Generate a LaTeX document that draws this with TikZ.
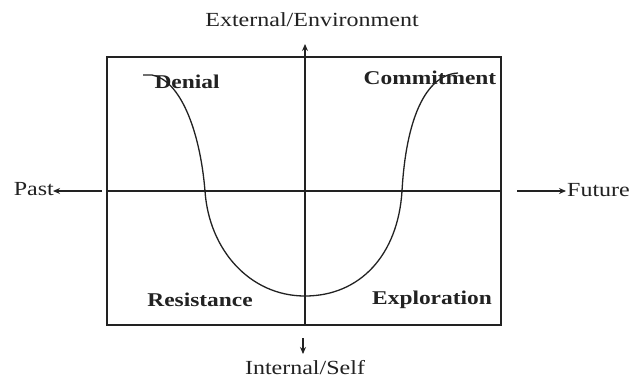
\documentclass[tikz,border=0pt]{standalone}
\usepackage{fontspec}
\setmainfont{Liberation Serif}
\newfontfamily\labfont[FakeStretch=1.2]{Liberation Serif}
\usetikzlibrary{arrows.meta}
\definecolor{ink}{HTML}{222222}
\tikzset{
  quad/.style={font=\labfont\fontsize{19.5}{22}\selectfont\bfseries, text=ink, inner sep=0pt},
  axislab/.style={font=\labfont\fontsize{20}{22}\selectfont, text=ink, inner sep=0pt},
  axis/.style={draw=ink, line width=1.2pt},
  outarrow/.style={draw=ink, line width=1.2pt, -{Stealth[length=7pt,width=6pt]}},
  frame/.style={draw=ink, line width=1.7pt},
  curve/.style={draw=ink, line width=1.3pt}
}
\begin{document}
\begin{tikzpicture}[x=1pt,y=-1pt]
\useasboundingbox (0,0) rectangle (631,381);
\fill[white] (0,0) rectangle (631,381);
% frame corners
\coordinate (tl) at (107,57);
\coordinate (br) at (501,325);
\draw[frame] (tl) rectangle (br);
% axes inside box
\coordinate (vt) at (305,57);
\coordinate (vb) at (305,325);
\coordinate (hl) at (107,191);
\coordinate (hr) at (501,191);
\draw[axis] (vt) -- (vb);
\draw[axis] (hl) -- (hr);
% outside arrows
\coordinate (ua0) at (305,56);
\coordinate (ua1) at (305,44);
\coordinate (da0) at (303,338);
\coordinate (da1) at (303,354);
\coordinate (la0) at (102,191);
\coordinate (la1) at (53,191);
\coordinate (ra0) at (517,191);
\coordinate (ra1) at (566,191);
\draw[outarrow] (ua0) -- (ua1);
\draw[outarrow] (da0) -- (da1);
\draw[outarrow] (la0) -- (la1);
\draw[outarrow] (ra0) -- (ra1);
% axis labels
\node[axislab] (ext) at (312,20) {External/Environment};
\node[axislab] (int) at (305,368) {Internal/Self};
\node[axislab, anchor=east] (past) at (54,189) {Past};
\node[axislab, anchor=west] (fut) at (567,190) {Future};
% curve
\coordinate (c0) at (143,75);
\coordinate (c1) at (152,75);
\coordinate (c2) at (205,191);
\coordinate (c3) at (305,296);
\coordinate (c4) at (402,191);
\coordinate (c5) at (458,73);
\draw[curve] (c0) -- (c1) .. controls (180,80) and (200,130) .. (c2)
  .. controls (209,250) and (250,296) .. (c3)
  .. controls (360,296) and (398,255) .. (c4)
  .. controls (406,120) and (425,75) .. (c5);
% quadrant labels
\node[quad] (den) at (187,82) {Denial};
\node[quad] (com) at (430,78) {Commitment};
\node[quad] (res) at (200,300) {Resistance};
\node[quad] (exp) at (432,300) {Exploration};
\end{tikzpicture}
\end{document}
